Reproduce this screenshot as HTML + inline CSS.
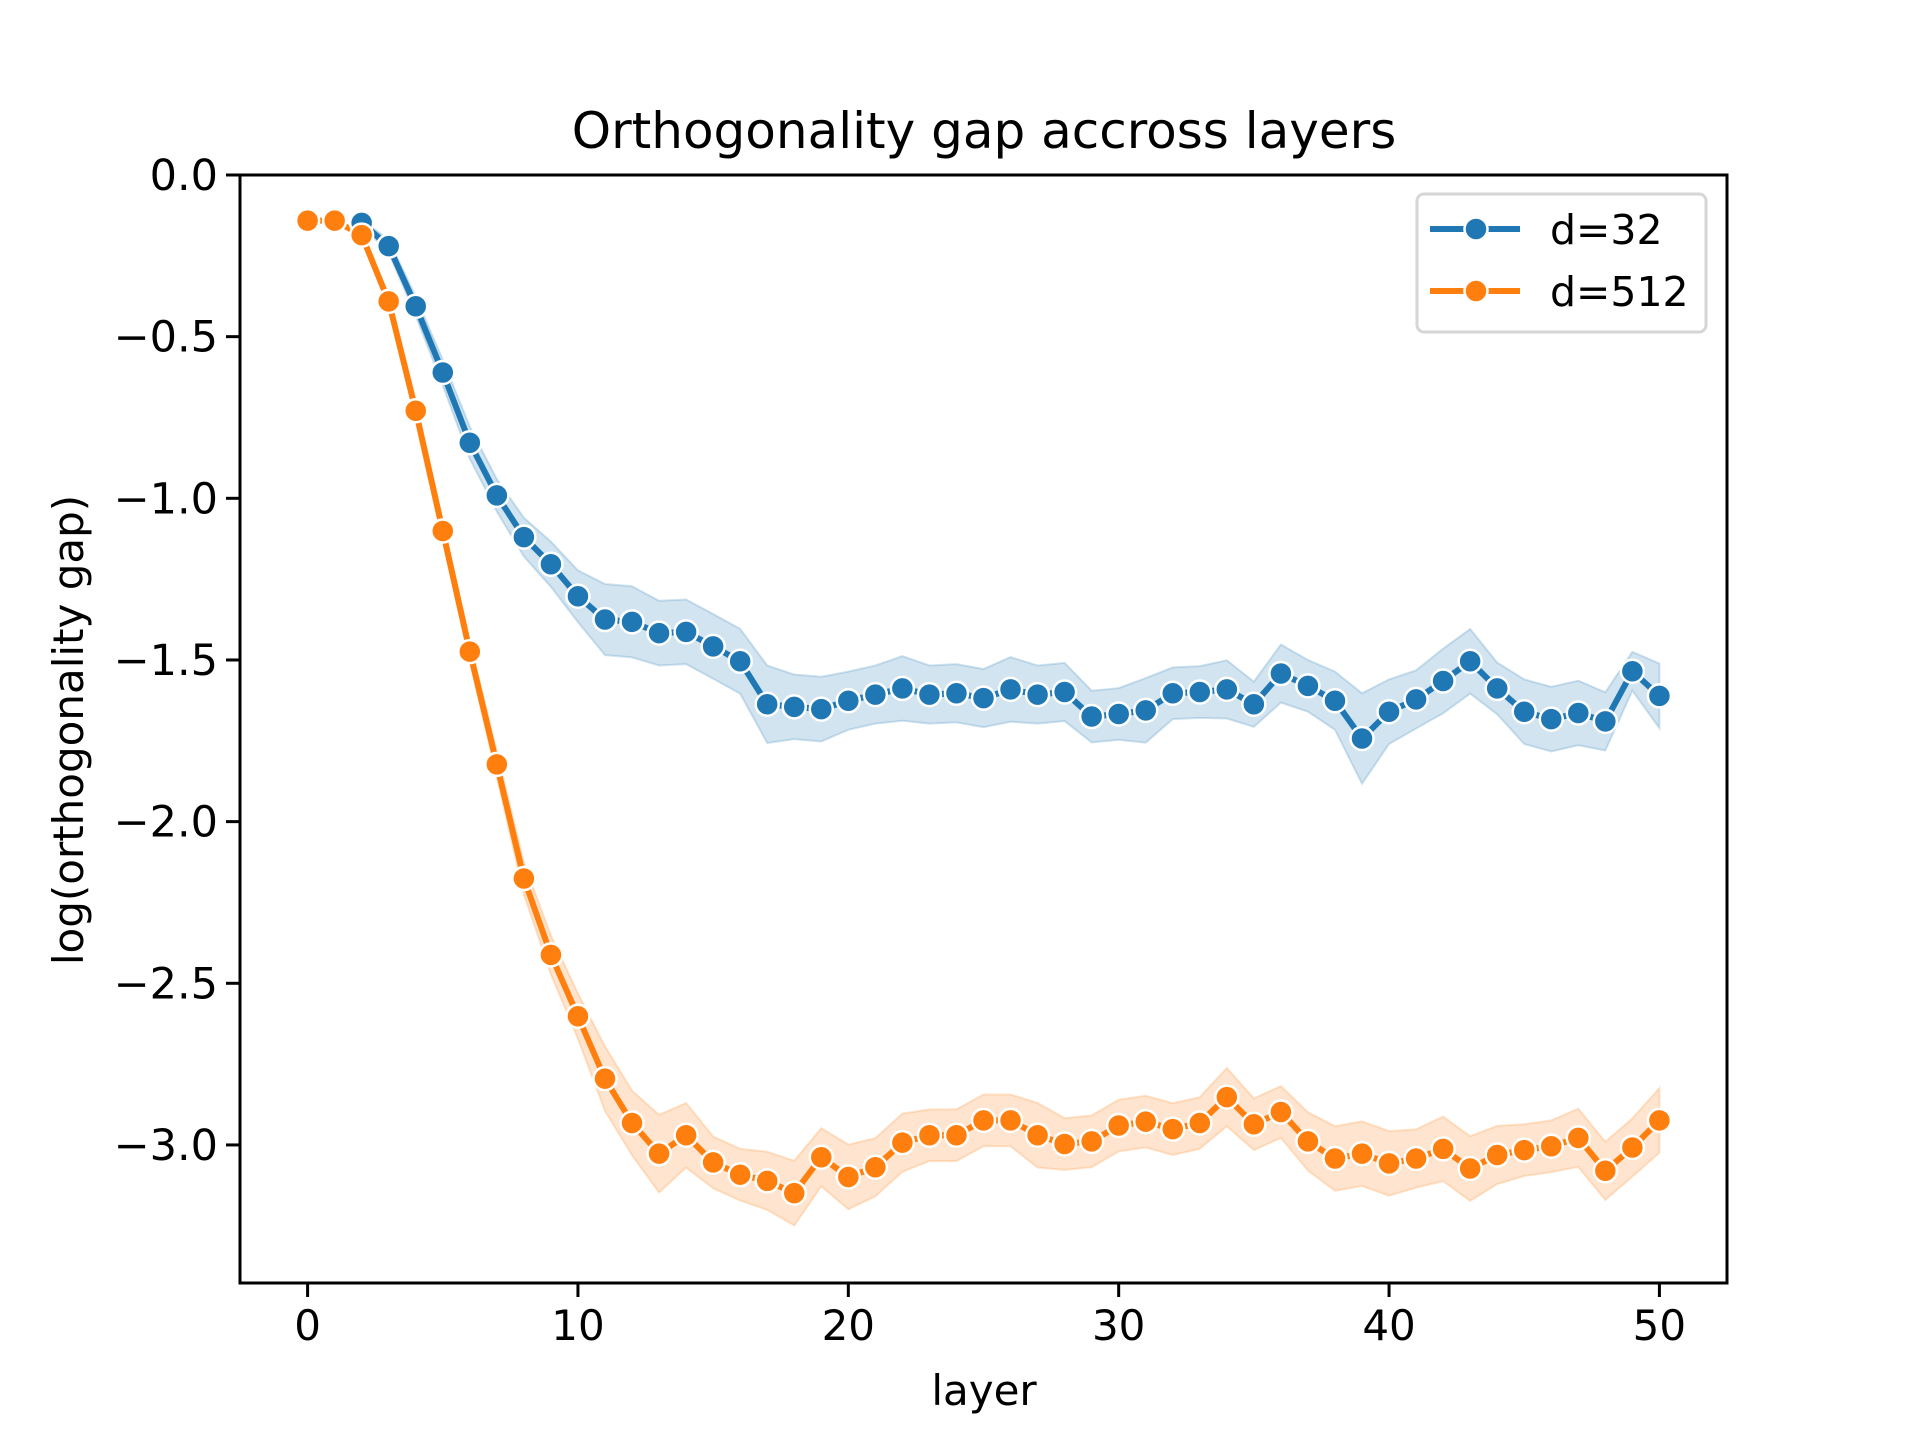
<!DOCTYPE html>
<html><head><meta charset="utf-8"><style>
html,body{margin:0;padding:0;background:#fff;}
svg text{font-family:"DejaVu Sans","Liberation Sans",sans-serif;fill:#000;}
</style></head><body>
<svg id="chart" width="1920" height="1440" viewBox="0 0 1920 1440" xmlns="http://www.w3.org/2000/svg">
<rect width="1920" height="1440" fill="#fff"/>
<g id="bands"></g><g id="lines"></g><g id="marks"></g><g id="axes"></g>
</svg>
<script>
const layersBlue = [2,3,4,5,6,7,8,9,10,11,12,13,14,15,16,17,18,19,20,21,22,23,24,25,26,27,28,29,30,31,32,33,34,35,36,37,38,39,40,41,42,43,44,45,46,47,48,49,50];
const valuesBlue = [-0.148,-0.220,-0.406,-0.611,-0.828,-0.991,-1.120,-1.204,-1.303,-1.375,-1.382,-1.417,-1.413,-1.458,-1.504,-1.637,-1.645,-1.652,-1.626,-1.607,-1.588,-1.607,-1.603,-1.618,-1.591,-1.607,-1.599,-1.675,-1.667,-1.656,-1.603,-1.599,-1.591,-1.637,-1.542,-1.580,-1.626,-1.743,-1.660,-1.622,-1.565,-1.504,-1.588,-1.660,-1.683,-1.664,-1.690,-1.535,-1.611];
const errBlue = [0.01,0.02,0.03,0.04,0.05,0.05,0.06,0.07,0.08,0.11,0.11,0.1,0.1,0.1,0.1,0.12,0.1,0.1,0.09,0.09,0.1,0.09,0.09,0.09,0.1,0.09,0.09,0.08,0.08,0.1,0.08,0.08,0.09,0.07,0.09,0.08,0.09,0.14,0.1,0.09,0.1,0.1,0.08,0.1,0.1,0.1,0.09,0.06,0.1];
const layersOrange = [0,1,2,3,4,5,6,7,8,9,10,11,12,13,14,15,16,17,18,19,20,21,22,23,24,25,26,27,28,29,30,31,32,33,34,35,36,37,38,39,40,41,42,43,44,45,46,47,48,49,50];
const valuesOrange = [-0.141,-0.141,-0.186,-0.391,-0.729,-1.101,-1.474,-1.823,-2.176,-2.412,-2.602,-2.795,-2.932,-3.027,-2.970,-3.054,-3.092,-3.111,-3.149,-3.038,-3.099,-3.069,-2.993,-2.970,-2.970,-2.924,-2.924,-2.970,-2.997,-2.989,-2.940,-2.928,-2.951,-2.932,-2.852,-2.936,-2.898,-2.989,-3.042,-3.027,-3.057,-3.042,-3.012,-3.073,-3.031,-3.016,-3.004,-2.978,-3.080,-3.008,-2.924];
const errOrange = [0.005,0.005,0.01,0.02,0.03,0.03,0.03,0.04,0.05,0.06,0.07,0.1,0.1,0.12,0.1,0.08,0.08,0.09,0.1,0.09,0.1,0.09,0.09,0.08,0.08,0.08,0.08,0.1,0.08,0.08,0.08,0.08,0.08,0.08,0.09,0.08,0.08,0.09,0.1,0.1,0.1,0.09,0.1,0.1,0.09,0.08,0.08,0.09,0.09,0.09,0.1];
const xTicks = [0,10,20,30,40,50];
const yTicks = [0,-0.5,-1,-1.5,-2,-2.5,-3];
const yTickLabels = ["0.0","\u22120.5","\u22121.0","\u22121.5","\u22122.0","\u22122.5","\u22123.0"];

const NS="http://www.w3.org/2000/svg";
const L=240,R=1727,T=175,B=1283;
const xmin=-2.5,xmax=52.5,ymax=0,ymin=-3.427;
function X(v){return L+(v-xmin)/(xmax-xmin)*(R-L);}
function Y(v){return T+(ymax-v)/(ymax-ymin)*(B-T);}
function el(tag,attrs,parent,text){const e=document.createElementNS(NS,tag);for(const k in attrs)e.setAttribute(k,attrs[k]);if(text!==undefined)e.textContent=text;parent.appendChild(e);return e;}
const bands=document.getElementById('bands'),lines=document.getElementById('lines'),marks=document.getElementById('marks'),axes=document.getElementById('axes');

function series(xs,vs,es,color,name){
  let up=xs.map((x,i)=>X(x)+','+Y(vs[i]+es[i]));
  let dn=xs.map((x,i)=>X(x)+','+Y(vs[i]-es[i])).reverse();
  const b=el('polygon',{points:up.concat(dn).join(' '),fill:color,'fill-opacity':0.2,stroke:color,'stroke-opacity':0.2,'stroke-width':2},bands);
  
  
  const p=el('polyline',{points:xs.map((x,i)=>X(x)+','+Y(vs[i])).join(' '),fill:'none',stroke:color,'stroke-width':6,'stroke-linejoin':'round','stroke-linecap':'round'},lines);
  
  
  xs.forEach((x,i)=>{
    const c=el('circle',{cx:X(x),cy:Y(vs[i]),r:11.5,fill:color,stroke:'#fff','stroke-width':2.5},marks);
    
    
  });
}
series(layersBlue,valuesBlue,errBlue,'#1f77b4','d32');
series(layersOrange,valuesOrange,errOrange,'#ff7f0e','d512');

const frame=el('rect',{x:L,y:T,width:R-L,height:B-T,fill:'none',stroke:'#000','stroke-width':3},axes);


xTicks.forEach(t=>{
  el('line',{x1:X(t),x2:X(t),y1:B,y2:B+14,stroke:'#000','stroke-width':3},axes);
  const tx=el('text',{x:X(t),y:B+57,'font-size':42,'text-anchor':'middle'},axes,String(t));
  
  
});
yTicks.forEach((t,i)=>{
  el('line',{x1:L-14,x2:L,y1:Y(t),y2:Y(t),stroke:'#000','stroke-width':3},axes);
  const ty=el('text',{x:L-22,y:Y(t)+15,'font-size':43,'text-anchor':'end'},axes,yTickLabels[i]);
  
  
});
</script>
<svg style="position:absolute;left:0;top:0" width="1920" height="1440" xmlns="http://www.w3.org/2000/svg">
<text x="984" y="148" font-size="50" text-anchor="middle">Orthogonality gap accross layers</text>
<text x="984" y="1405" font-size="42" text-anchor="middle">layer</text>
<text x="0" y="0" font-size="42" text-anchor="middle" transform="translate(83,730) rotate(-90)">log(orthogonality gap)</text>
<g>
<rect x="1417" y="194" width="289" height="138" rx="7" fill="#fff" fill-opacity="0.8" stroke="#d6d6d6" stroke-width="3"/>
<g>
<line x1="1430" x2="1520" y1="229" y2="229" stroke="#1f77b4" stroke-width="6"/>
<circle cx="1476" cy="229" r="11.5" fill="#1f77b4" stroke="#fff" stroke-width="2.5"/>
<text x="1550" y="244" font-size="41">d=32</text>
</g>
<g>
<line x1="1430" x2="1520" y1="291" y2="291" stroke="#ff7f0e" stroke-width="6"/>
<circle cx="1476" cy="291" r="11.5" fill="#ff7f0e" stroke="#fff" stroke-width="2.5"/>
<text x="1550" y="306" font-size="41">d=512</text>
</g>
</g>
</svg>
</body></html>
